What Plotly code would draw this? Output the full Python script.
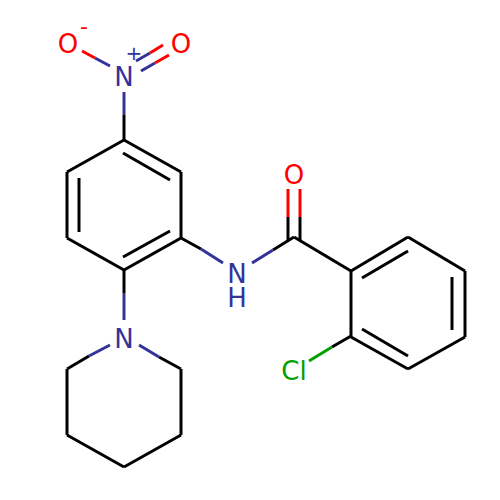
import plotly.graph_objects as go

# Bond segments (start x, start y, end x, end y), in the picture's units, by colour
black_segments = [
    (124, 115, 124, 140), (124, 140, 181, 172), (181, 172, 181, 238), (181, 238, 124, 270),
    (124, 270, 67, 238), (67, 238, 67, 172), (67, 172, 124, 140),
    (123, 153, 170, 180), (170, 231, 123, 257), (79, 232, 79, 178),
    (124, 270, 124, 293), (181, 238, 201, 249),
    (89, 356, 67, 369), (67, 369, 67, 435), (67, 435, 124, 467), (124, 467, 181, 435),
    (181, 435, 181, 369), (181, 369, 159, 357),
    (273, 250, 294, 237), (288, 241, 288, 217), (300, 241, 300, 217), (294, 237, 351, 271),
    (351, 271, 408, 237), (408, 237, 465, 271), (465, 271, 465, 337), (465, 337, 408, 369),
    (408, 369, 351, 337), (351, 337, 351, 271),
    (362, 278, 408, 251), (452, 277, 452, 330), (408, 356, 362, 329), (351, 336, 332, 347),
]
blue_segments = [
    (95, 58, 110, 66), (136, 61, 150, 53), (141, 71, 155, 63), (124, 92, 124, 115),
    (124, 293, 124, 320), (201, 249, 223, 263), (252, 263, 273, 250),
    (89, 356, 110, 345), (159, 357, 139, 345),
]
red_segments = [
    (82, 51, 95, 58), (150, 53, 163, 45), (155, 63, 169, 55),
    (288, 217, 288, 189), (300, 217, 300, 189),
]
green_segments = [(332, 347, 309, 361)]

# Atom labels
label_text = ["O", "-", "O", "N", "+", "N", "H", "N", "O", "Cl"]
label_x = [68, 84, 181, 124, 134, 237, 237, 124, 294, 294]
label_y = [46, 28, 46, 79, 55, 276, 300, 341, 177, 373]
label_color = ["#FF0000", "#FF0000", "#FF0000", "#333399", "#333399",
               "#333399", "#333399", "#333399", "#FF0000", "#00A000"]
label_size = [26, 22, 26, 26, 20, 26, 26, 26, 26, 26]


def polyline(segments):
    xs, ys = [], []
    for x0, y0, x1, y1 in segments:
        xs += [x0, x1, None]
        ys += [y0, y1, None]
    return xs, ys


fig = go.Figure()
for segs, colour in [(black_segments, "#000000"), (blue_segments, "#333399"),
                     (red_segments, "#FF0000"), (green_segments, "#00A000")]:
    xs, ys = polyline(segs)
    fig.add_trace(go.Scatter(x=xs, y=ys, mode="lines", hoverinfo="skip",
                             line=dict(color=colour, width=3, simplify=False)))
fig.add_trace(go.Scatter(x=label_x, y=label_y, mode="text", text=label_text,
                         textposition="middle center", hoverinfo="skip",
                         textfont=dict(family="DejaVu Sans", size=label_size, color=label_color)))
# The page sets the plot 8 px in from its top-left corner, so the ranges start at 8.
fig.update_layout(width=500, height=500, margin=dict(l=0, r=0, t=0, b=0),
                  paper_bgcolor="white", plot_bgcolor="white", showlegend=False,
                  xaxis=dict(range=[8, 508], visible=False, fixedrange=True),
                  yaxis=dict(range=[508, 8], visible=False, fixedrange=True))
fig.write_html("out.html", config={"displayModeBar": False})
